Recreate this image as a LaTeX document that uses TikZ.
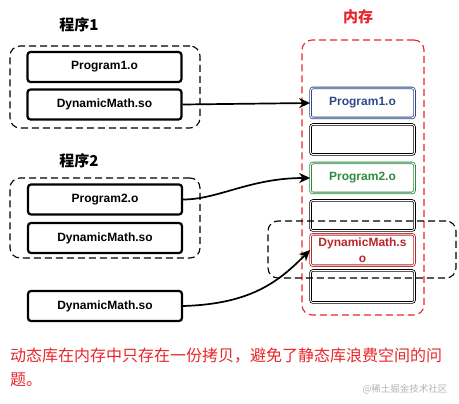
\documentclass[tikz,border=0pt]{standalone}
\usepackage{fontspec}
\setmainfont{Liberation Sans}
\newfontfamily\cjk{Noto Sans CJK SC}
\usetikzlibrary{arrows.meta, positioning}
\definecolor{memred}{HTML}{E8262A}
\definecolor{slotblue}{HTML}{2E4A86}
\definecolor{slotgreen}{HTML}{2E8A3E}
\definecolor{slotred}{HTML}{B8262A}
\definecolor{markgray}{HTML}{B4B4B4}

\begin{document}
\begin{tikzpicture}[
    x=1pt, y=-1pt,
    >=Stealth,
    objbox/.style={
        rectangle,
        rounded corners=3pt,
        draw=black,
        line width=2.2pt,
        minimum width=154pt,
        minimum height=30pt,
        font=\fontsize{12}{14}\selectfont\bfseries,
    },
    slot/.style={
        rectangle,
        rounded corners=2.5pt,
        draw=black,
        line width=0.8pt,
        double=white,
        double distance=0.9pt,
        minimum width=104pt,
        minimum height=30pt,
        align=center,
        font=\fontsize{12}{14}\selectfont\bfseries,
    },
    groupbox/.style={
        rectangle,
        rounded corners=10pt,
        draw=black,
        line width=1.1pt,
        dash pattern=on 7pt off 4pt,
    },
    heading/.style={
        font=\cjk\fontsize{15}{18}\selectfont\bfseries,
    },
    link/.style={
        black,
        line width=1.7pt,
        -{Stealth[length=11pt, width=10pt]},
    },
]

\useasboundingbox (0,0) rectangle (459,404);

% Program 1
\node[heading] (head1) at (79,25) {程序1};
\node[groupbox, minimum width=190pt, minimum height=82pt] (grp1) at (105,87) {};
\node[objbox] (prog1) at (104.5,67) {Program1.o};
\node[objbox] (dyn1) at (104.5,104.5) {DynamicMath.so};

% Program 2
\node[heading] (head2) at (79,161) {程序2};
\node[groupbox, minimum width=190pt, minimum height=80pt] (grp2) at (105,218) {};
\node[objbox] (prog2) at (105,199.5) {Program2.o};
\node[objbox] (dyn2) at (105,238) {DynamicMath.so};

% loose library
\node[objbox] (dyn3) at (105,306) {DynamicMath.so};

% Memory
\node[heading, text=memred] (headmem) at (358,17) {内存};
\node[groupbox, draw=memred, minimum width=122pt, minimum height=275pt] (mem) at (363,177.5) {};
\node[slot, draw=slotblue, text=slotblue] (mprog1) at (362.5,103) {Program1.o};
\node[slot] (mfree1) at (362.5,139.5) {};
\node[slot, draw=slotgreen, text=slotgreen] (mprog2) at (362.5,178) {Program2.o};
\node[slot] (mfree2) at (362.5,215.5) {};
\node[slot, draw=slotred, text=slotred, font=\fontsize{12}{16}\selectfont\bfseries] (mdyn) at (362.5,250) {DynamicMath.s\\o};
\node[slot, minimum height=32pt] (mfree3) at (362.5,286.5) {};
\node[groupbox, minimum width=188pt, minimum height=57pt] (shared) at (362,249.5) {};

% Arrows
\draw[link] (dyn1.east) -- (mprog1.west);
\draw[link] (prog2.east) .. controls +(35,0) and +(-60,0) .. (mprog2.west);
\draw[link] (dyn3.east) .. controls +(70,-2) and +(-30,30) .. (mdyn.west);

% Note
\node[anchor=north west, text=memred, align=left, inner sep=0pt,
      font=\cjk\fontsize{16}{24}\selectfont] (note) at (10,348)
    {动态库在内存中只存在一份拷贝，避免了静态库浪费空间的问\\题。};
\node[text=markgray, font=\cjk\fontsize{9.5}{11}\selectfont] (mark) at (405,389) {@稀土掘金技术社区};

\end{tikzpicture}
\end{document}
